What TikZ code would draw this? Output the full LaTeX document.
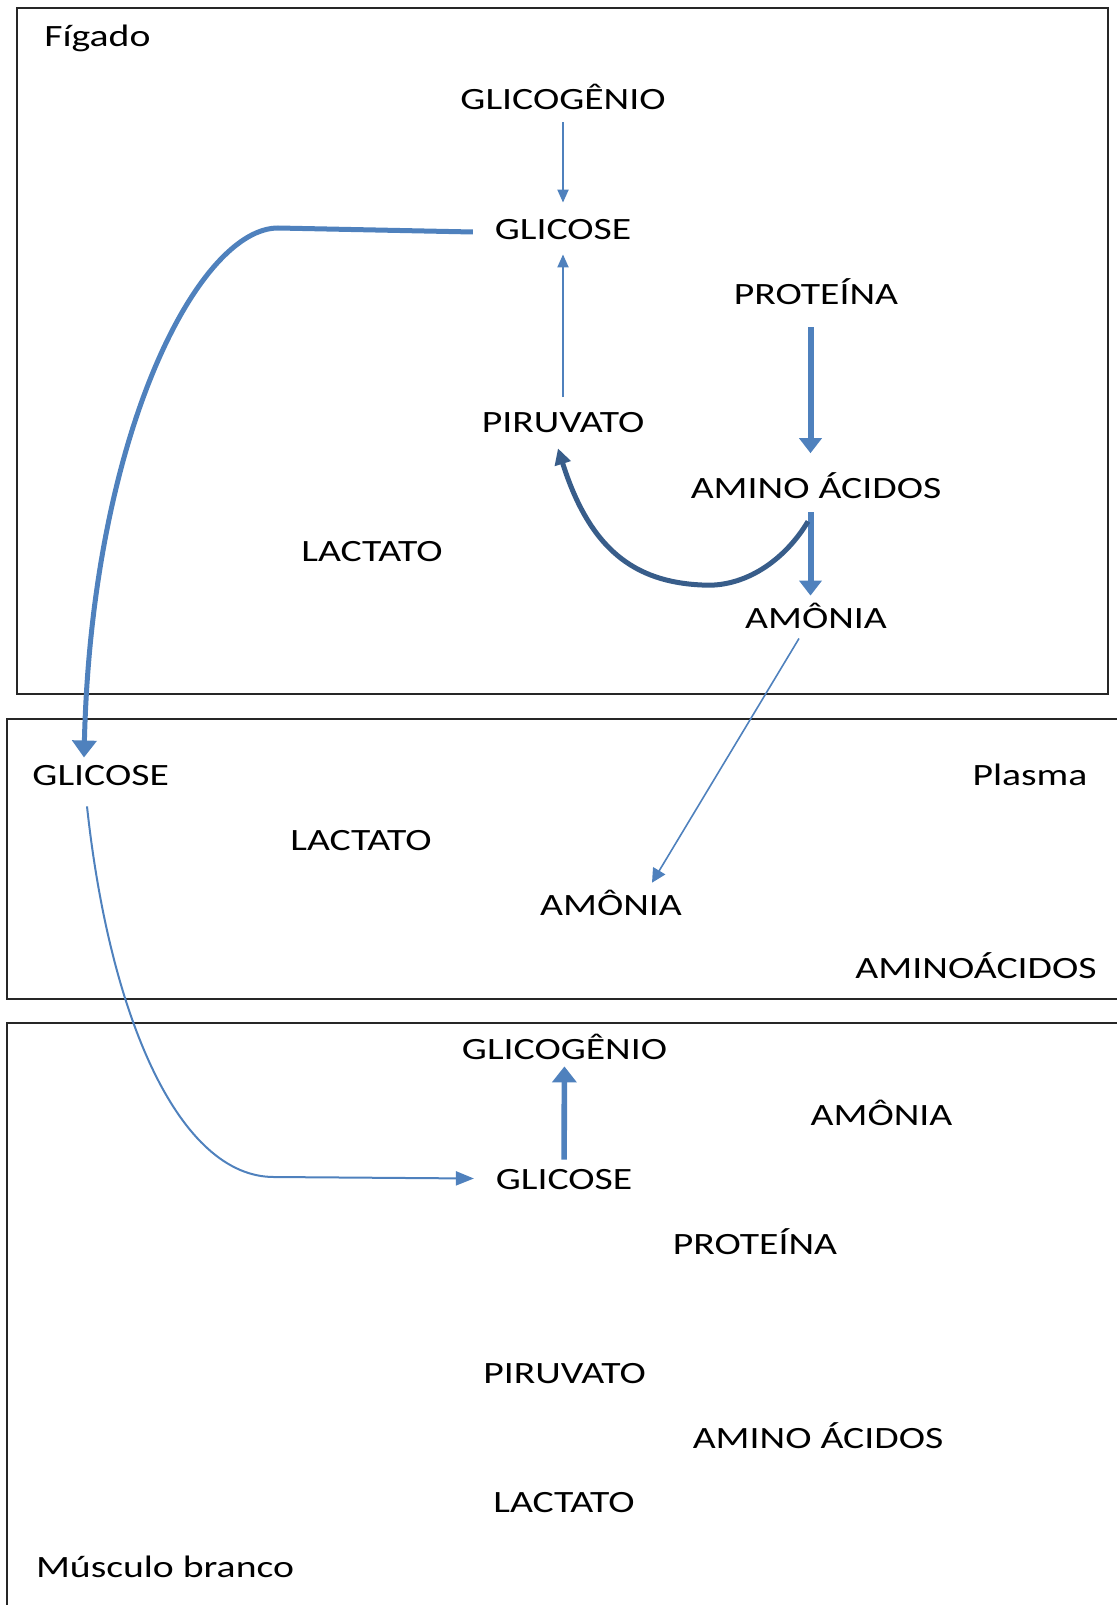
\documentclass[tikz,border=0pt]{standalone}
\usepackage{fontspec}
\setmainfont{Carlito}[FakeStretch=1.28]
\usetikzlibrary{arrows.meta}
\definecolor{officeblue}{HTML}{4F81BD}
\definecolor{darkblue}{HTML}{385D8A}

\begin{document}
\begin{tikzpicture}[x=0.5pt, y=-0.5pt,
    font=\fontsize{15.5pt}{18pt}\selectfont,
    term/.style={inner sep=0pt, text height=9.6pt, text depth=0pt},
    region/.style={draw=black!85, line width=1pt},
    thinarrow/.style={draw=officeblue, line width=1pt, -{Triangle[length=6.5pt,width=5.5pt]}},
    bigarrow/.style={draw=officeblue, line width=3pt, -{Triangle[length=7.5pt,width=11pt]}}]
   \useasboundingbox (0,0) rectangle (1117,1605);
   % Compartments
   \draw[region] (17,8.3) rectangle (1108,694);
   \draw[region] (7,719.3) rectangle (1140,999.3);
   \draw[region] (7,1023) rectangle (1140,1640);
   % Figado
   \node[term, anchor=west] (figado) at (44,36.6) {Fígado};
   \node[term] (glicogenioF) at (563,100) {GLICOGÊNIO};
   \node[term] (glicoseF) at (563,229.6) {GLICOSE};
   \node[term] (proteinaF) at (816,295) {PROTEÍNA};
   \node[term] (piruvatoF) at (563,423) {PIRUVATO};
   \node[term] (aminoF) at (816,489) {AMINO ÁCIDOS};
   \node[term] (lactatoF) at (372,552) {LACTATO};
   \node[term] (amoniaF) at (816,618.5) {AMÔNIA};
   % Plasma
   \node[term] (glicoseP) at (100.7,776) {GLICOSE};
   \node[term] (plasma) at (1030,776) {Plasma};
   \node[term] (lactatoP) at (361,840.7) {LACTATO};
   \node[term] (amoniaP) at (611,905.7) {AMÔNIA};
   \node[term] (aminoP) at (976,969) {AMINOÁCIDOS};
   % Musculo branco
   \node[term] (glicogenioM) at (564.5,1050) {GLICOGÊNIO};
   \node[term] (amoniaM) at (881.5,1115.7) {AMÔNIA};
   \node[term] (glicoseM) at (564,1180) {GLICOSE};
   \node[term] (proteinaM) at (755,1245) {PROTEÍNA};
   \node[term] (piruvatoM) at (564.5,1373.5) {PIRUVATO};
   \node[term] (aminoM) at (818,1438.7) {AMINO ÁCIDOS};
   \node[term] (lactatoM) at (564,1502.7) {LACTATO};
   \node[term, anchor=west] (musculo) at (35.6,1568) {Músculo branco};
   % Connect the metabolites with arrows
   \draw[thinarrow, shorten <=6.2pt, shorten >=8.5pt] (glicogenioF) -- (glicoseF);
   \draw[thinarrow, shorten <=7.9pt, shorten >=7.4pt] (piruvatoF) -- (glicoseF);
   \draw[bigarrow, shorten <=11.2pt, shorten >=12.9pt] ([xshift=-2.75pt]proteinaF.south) -- ([xshift=-2.75pt]aminoF.north);
   \draw[bigarrow, shorten <=6.7pt, shorten >=6.45pt] ([xshift=-2.75pt]aminoF.south) -- ([xshift=-2.75pt]amoniaF.north);
   \draw[darkblue, line width=2.5pt, -{Triangle[length=8pt,width=8pt]}]
      ([xshift=-4pt,yshift=-11.2pt]aminoF.south) .. controls (785,560) and (745,588) .. (702,585)
      .. controls (635,582) and (590,550) .. ([xshift=-2.5pt,yshift=-7.7pt]piruvatoF.south);
   \draw[thinarrow, line width=0.8pt, -{Triangle[length=7pt,width=7pt]}]
      ([xshift=-8.5pt,yshift=-5pt]amoniaF.south) -- ([xshift=20.5pt,yshift=6.5pt]amoniaP.north);
   \draw[officeblue, line width=2.5pt, -{Triangle[length=8.5pt,width=12pt]}]
      ([xshift=-10.75pt,yshift=-1.2pt]glicoseF.west) -- (278,228)
      .. controls (200,228) and (92,430) .. ([xshift=-8.35pt,yshift=4.25pt]glicoseP.north);
   \draw[thinarrow, -{Triangle[length=9pt,width=7pt]}]
      ([xshift=-6.85pt,yshift=-10.2pt]glicoseP.south) .. controls (110,1020) and (180,1177) .. (274,1177)
      -- ([xshift=-10.75pt,yshift=0.75pt]glicoseM.west);
   \draw[bigarrow, line width=2.8pt, -{Triangle[length=8pt,width=12pt]}, shorten <=5.2pt, shorten >=3.2pt] (glicoseM) -- (glicogenioM);
\end{tikzpicture}
\end{document}
